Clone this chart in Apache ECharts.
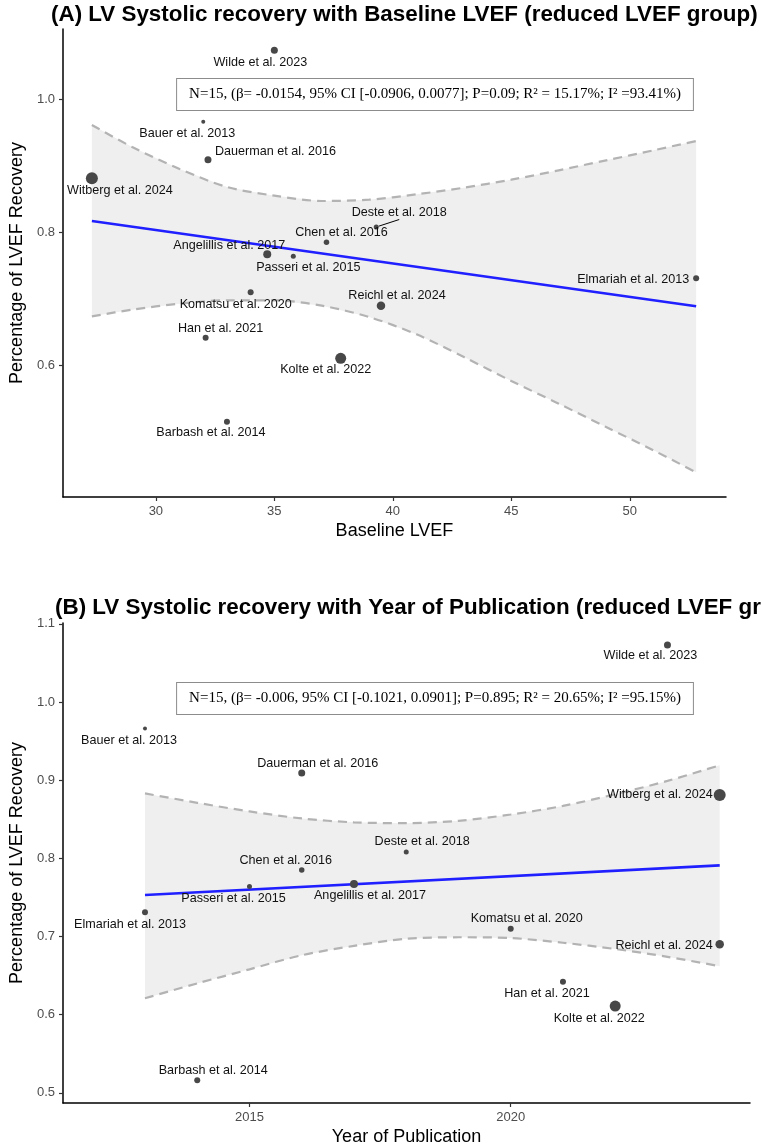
<!DOCTYPE html>
<html>
<head>
<meta charset="utf-8">
<script src="https://cdn.jsdelivr.net/npm/echarts@6/dist/echarts.min.js"></script>
<style>
  html, body { margin: 0; padding: 0; background: #fff; }
  #main { width: 761px; height: 1147px; }
</style>
</head>
<body>
<div id="main"></div>
<script>
// studies (same order in both panels)
var studies = ['Wilde et al. 2023', 'Bauer et al. 2013', 'Dauerman et al. 2016', 'Witberg et al. 2024',
  'Deste et al. 2018', 'Chen et al. 2016', 'Angelillis et al. 2017', 'Passeri et al. 2015',
  'Elmariah et al. 2013', 'Komatsu et al. 2020', 'Reichl et al. 2024', 'Han et al. 2021',
  'Kolte et al. 2022', 'Barbash et al. 2014'];
var baselineLvef = [35.0, 32.0, 32.2, 27.3, 39.3, 37.2, 34.7, 35.8, 52.8, 34.0, 39.5, 32.1, 37.8, 33.0];
var pubYear = [2023, 2013, 2016, 2024, 2018, 2016, 2017, 2015, 2013, 2020, 2024, 2021, 2022, 2014];
var recovery = [1.073, 0.966, 0.909, 0.881, 0.808, 0.785, 0.767, 0.764, 0.731, 0.710, 0.690, 0.642, 0.611, 0.516];
var studyWeight = [7, 4, 7, 12, 5, 5.5, 8, 5, 6, 6, 8.5, 6, 11, 6];

// panel A regression + CI
var fitA_x = [27.3, 52.8];
var fitA_y = [0.817, 0.689];
var bandA_x = [27.3, 29, 31, 33, 35, 37, 39, 41, 43, 45, 47, 49, 51, 52.8];
var bandA_upper = [0.961, 0.928, 0.895, 0.868, 0.855, 0.847, 0.849, 0.857, 0.867, 0.879, 0.893, 0.908, 0.923, 0.937];
var bandA_lower = [0.674, 0.684, 0.693, 0.698, 0.698, 0.690, 0.673, 0.647, 0.613, 0.577, 0.543, 0.508, 0.473, 0.440];

// panel B regression + CI
var fitB_x = [2013, 2024];
var fitB_y = [0.753, 0.791];
var bandB_x = [2013, 2014, 2015, 2016, 2017, 2018, 2019, 2020, 2021, 2022, 2023, 2024];
var bandB_upper = [0.883, 0.871, 0.860, 0.851, 0.846, 0.845, 0.848, 0.856, 0.867, 0.882, 0.899, 0.919];
var bandB_lower = [0.621, 0.640, 0.658, 0.676, 0.688, 0.697, 0.699, 0.698, 0.692, 0.684, 0.674, 0.662];

var ticksA_x = [30, 35, 40, 45, 50];
var ticksA_y = [0.6, 0.8, 1.0];
var ticksB_x = [2015, 2020];
var ticksB_y = [0.5, 0.6, 0.7, 0.8, 0.9, 1.0, 1.1];

var statsA = 'N=15, (\u03b2= -0.0154, 95% CI [-0.0906, 0.0077]; P=0.09; R\u00b2 = 15.17%; I\u00b2 =93.41%)';
var statsB = 'N=15, (\u03b2= -0.006, 95% CI [-0.1021, 0.0901]; P=0.895; R\u00b2 = 20.65%; I\u00b2 =95.15%)';

// label placement (px from point centre) - mimics ggrepel layout
var labelPosA = [[-14, 12], [-16, 12], [7, -8, 'left'], [28, 12], [23, -14], [15, -10], [-38, -9],
  [15, 11], [-7, 1, 'right'], [-15, 12], [16, -10], [15, -9], [-15, 11], [-16, 11]];
var labelPosB = [[-17, 11], [-16, 12], [16, -10], [-7, 0, 'right'], [16, -11], [-16, -10], [16, 11],
  [-16, 12], [-15, 12], [16, -10], [-7, 1, 'right'], [-16, 12], [-16, 12], [16, -10]];

var font = 'Liberation Sans, Arial, sans-serif';
var serif = 'Liberation Serif, Times New Roman, serif';
var chart = echarts.init(document.getElementById('main'));

function zip(xs, ys) {
  return xs.map(function (x, i) { return [x, ys[i]]; });
}

function axis(grid, min, max, ticks, name, gap, digits) {
  return {
    type: 'value', gridIndex: grid, min: min, max: max,
    name: name, nameLocation: 'middle', nameGap: gap,
    nameTextStyle: { fontSize: 18, color: '#000', fontFamily: font },
    splitLine: { show: false },
    axisLine: { onZero: false, lineStyle: { color: '#000', width: 1.5 } },
    axisTick: { length: 4, customValues: ticks, lineStyle: { color: '#333', width: 1.2 } },
    axisLabel: {
      customValues: ticks, margin: 8, fontSize: 13, color: '#4d4d4d', fontFamily: font,
      formatter: function (v) { return v.toFixed(digits); }
    }
  };
}

function bandSeries(idx, xs, up, lo) {
  return {
    type: 'custom', xAxisIndex: idx, yAxisIndex: idx, silent: true, z: 1,
    data: [[xs[0], up[0]]],
    renderItem: function (params, api) {
      var pts = [];
      for (var i = 0; i < xs.length; i++) pts.push(api.coord([xs[i], up[i]]));
      for (var j = xs.length - 1; j >= 0; j--) pts.push(api.coord([xs[j], lo[j]]));
      return { type: 'polygon', shape: { points: pts }, style: { fill: '#efefef' } };
    }
  };
}

function dashSeries(idx, xs, ys) {
  return {
    type: 'line', xAxisIndex: idx, yAxisIndex: idx, data: zip(xs, ys), symbol: 'none', smooth: 0.3,
    silent: true, z: 2, lineStyle: { color: '#b3b3b3', width: 2.2, type: [9, 6] }
  };
}

function fitSeries(idx, xs, ys) {
  return {
    type: 'line', xAxisIndex: idx, yAxisIndex: idx, data: zip(xs, ys), symbol: 'none',
    silent: true, z: 3, lineStyle: { color: '#1f1fff', width: 2.6 }
  };
}

function pointSeries(idx, xs, pos) {
  return {
    type: 'scatter', xAxisIndex: idx, yAxisIndex: idx, z: 4,
    data: studies.map(function (s, i) {
      var item = { name: s, value: [xs[i], recovery[i]], symbolSize: studyWeight[i] };
      if (idx === 0 && s === 'Deste et al. 2018') item.labelLine = { show: true, lineStyle: { color: '#000', width: 1 } };
      return item;
    }),
    itemStyle: { color: '#484848', opacity: 1 },
    label: {
      show: true, position: 'inside', formatter: '{b}',
      color: '#111', fontSize: 12.6, fontFamily: font
    },
    labelLayout: function (p) {
      var o = pos[p.dataIndex];
      var cx = p.rect.x + p.rect.width / 2;
      var cy = p.rect.y + p.rect.height / 2;
      return { x: cx + o[0], y: cy + o[1], align: o[2] || 'center', verticalAlign: 'middle' };
    }
  };
}

var option = {
  animation: false,
  backgroundColor: '#fff',
  grid: [
    { left: 51, top: 29, width: 675, height: 468 },
    { left: 55, top: 623, width: 695, height: 481 }
  ],
  xAxis: [
    axis(0, 26.08, 54.06, ticksA_x, 'Baseline LVEF', 25, 0),
    axis(1, 2011.43, 2024.58, ticksB_x, 'Year of Publication', 25, 0)
  ],
  yAxis: [
    axis(0, 0.403, 1.105, ticksA_y, 'Percentage of LVEF Recovery', 28, 1),
    axis(1, 0.487, 1.101, ticksB_y, 'Percentage of LVEF Recovery', 32, 1)
  ],
  graphic: [
    { type: 'text', left: 51, top: 4, style: { text: '(A) LV Systolic recovery with Baseline LVEF (reduced LVEF group)',
      font: 'bold 22.4px ' + font, fill: '#000' } },
    { type: 'text', left: 55, top: 597, style: { text: '(B) LV Systolic recovery with Year of Publication (reduced LVEF group)',
      font: 'bold 22.4px ' + font, fill: '#000' } },
    { type: 'text', x: 435, y: 94.5, z: 10, style: { text: statsA, font: '15px ' + serif,
      fill: '#000', align: 'center', verticalAlign: 'middle', padding: [8, 12], borderColor: '#8c8c8c', borderWidth: 1, backgroundColor: '#fff' } },
    { type: 'text', x: 435, y: 698.5, z: 10, style: { text: statsB, font: '15px ' + serif,
      fill: '#000', align: 'center', verticalAlign: 'middle', padding: [8, 12], borderColor: '#8c8c8c', borderWidth: 1, backgroundColor: '#fff' } }
  ],
  series: [
    bandSeries(0, bandA_x, bandA_upper, bandA_lower),
    dashSeries(0, bandA_x, bandA_upper),
    dashSeries(0, bandA_x, bandA_lower),
    fitSeries(0, fitA_x, fitA_y),
    pointSeries(0, baselineLvef, labelPosA),
    bandSeries(1, bandB_x, bandB_upper, bandB_lower),
    dashSeries(1, bandB_x, bandB_upper),
    dashSeries(1, bandB_x, bandB_lower),
    fitSeries(1, fitB_x, fitB_y),
    pointSeries(1, pubYear, labelPosB)
  ]
};

chart.setOption(option);
</script>
</body>
</html>
